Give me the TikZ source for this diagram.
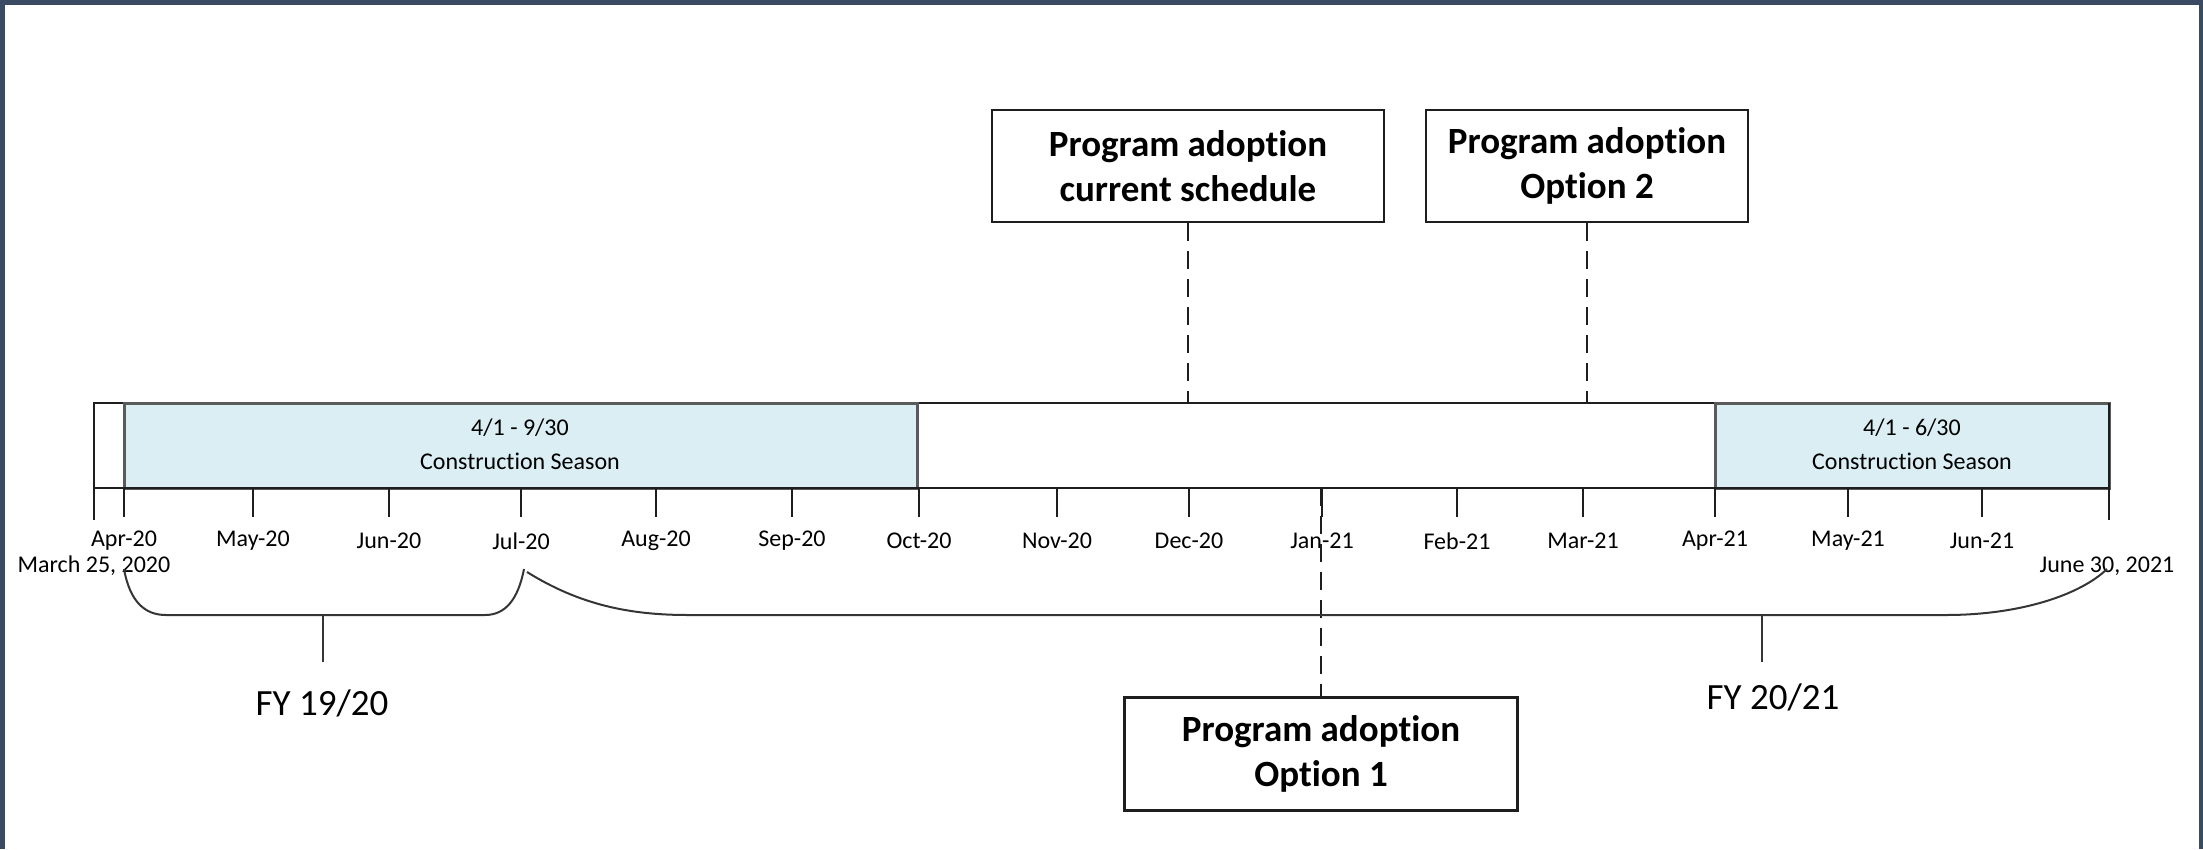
\documentclass[tikz,border=0pt]{standalone}
\usepackage{fontspec}
\setmainfont{Carlito}[Ligatures={NoCommon,NoContextual}]
\definecolor{framecol}{HTML}{3B4A63}
\definecolor{season}{HTML}{DAEEF3}
\definecolor{seasonline}{HTML}{5A5A5A}
\definecolor{ink}{HTML}{1E1E1E}
\begin{document}
\begin{tikzpicture}[x=1pt,y=-1pt,
  barline/.style={line width=2pt,draw=ink},
  tickline/.style={line width=2pt,draw=ink},
  seasonbox/.style={fill=season,draw=seasonline,line width=3pt},
  seasontext/.style={font=\fontsize{24}{34}\selectfont,align=center,inner sep=0pt},
  adopt/.style={draw=ink,line width=2.2pt,fill=white,align=center,
    font=\fontsize{37}{45}\selectfont\bfseries,inner sep=0pt,minimum height=112pt},
  lead/.style={line width=2pt,dash pattern=on 18pt off 10pt,draw=ink},
  monthlab/.style={font=\fontsize{24}{28}\selectfont,inner sep=0pt},
  brace/.style={line width=2pt,draw=ink!90},
  fylab/.style={font=\fontsize{37}{44}\selectfont,inner sep=0pt}]
\useasboundingbox (0,0) rectangle (2203,849);
% frame
\fill[framecol] (0,0) rectangle (2203,5);
\fill[framecol] (0,0) rectangle (5,849);
\fill[framecol] (2199,0) rectangle (2203,849);

% main bar
\draw[barline,fill=white] (94,403) rectangle (2109,488);
\draw[seasonbox] (124,403) rectangle (917,488);
\draw[seasonbox] (1715,403) rectangle (2109,488);
\draw[barline] (94,488) -- (2109,488);
\draw[barline] (2109,403) -- (2109,488);
\node[seasontext] (s1) at (520,444) {4/1 - 9/30\\Construction Season};
\node[seasontext] (s2) at (1912,444) {4/1 - 6/30\\Construction Season};

% ticks
\draw[tickline] (94,488) -- (94,520);
\draw[tickline] (2109,488) -- (2109,520);
\foreach \x/\lab/\nm in {124/Apr-20/m1, 253/May-20/m2, 389/Jun-20/m3, 521/Jul-20/m4,
  656/Aug-20/m5, 792/Sep-20/m6, 919/Oct-20/m7, 1057/Nov-20/m8, 1189/Dec-20/m9,
  1322/Jan-21/m10, 1457/Feb-21/m11, 1583/Mar-21/m12, 1715/Apr-21/m13,
  1848/May-21/m14, 1982/Jun-21/m15}{
  \coordinate (t\nm) at (\x,488);
  \draw[tickline] (t\nm) -- (\x,517);
  \node[monthlab] (\nm) at (\x,541) {\lab};
}
\node[monthlab] (start) at (94,566) {March 25, 2020};
\node[monthlab] (end) at (2107,566) {June 30, 2021};

% adoption boxes
\node[adopt,minimum width=392pt] (cur) at (1188,166) {Program adoption\\current schedule};
\node[adopt,minimum width=322pt] (opt2) at (1587,166) {Program adoption\\Option 2};
\node[adopt,minimum width=393pt,minimum height=113pt] (opt1) at (1321,754) {Program adoption\\Option 1};
\coordinate (curbar) at (1188,403);
\coordinate (opt2bar) at (1587,403);
\coordinate (opt1bar) at (1321,488);
\draw[lead] (cur.south) -- (curbar);
\draw[lead] (opt2.south) -- (opt2bar);
\draw[lead] (opt1bar) -- (opt1.north);

% fiscal year braces
\coordinate (b1l) at (124,569);
\coordinate (b1r) at (524,569);
\coordinate (b1m) at (323,615);
\draw[brace] (b1l) .. controls (130,602) and (145,615) .. (166,615) -- (485,615)
  .. controls (505,615) and (518,600) .. (b1r);
\node[fylab] (fy1) at (322,703) {FY 19/20};
\draw[brace] (b1m) -- (323,662);

\coordinate (b2l) at (527,572);
\coordinate (b2r) at (2107,569);
\coordinate (b2m) at (1762,615);
\draw[brace] (b2l) .. controls (580,605) and (630,615) .. (688,615) -- (1946,615)
  .. controls (2020,615) and (2080,595) .. (b2r);
\node[fylab] (fy2) at (1773,697) {FY 20/21};
\draw[brace] (b2m) -- (1762,662);
\end{tikzpicture}
\end{document}
